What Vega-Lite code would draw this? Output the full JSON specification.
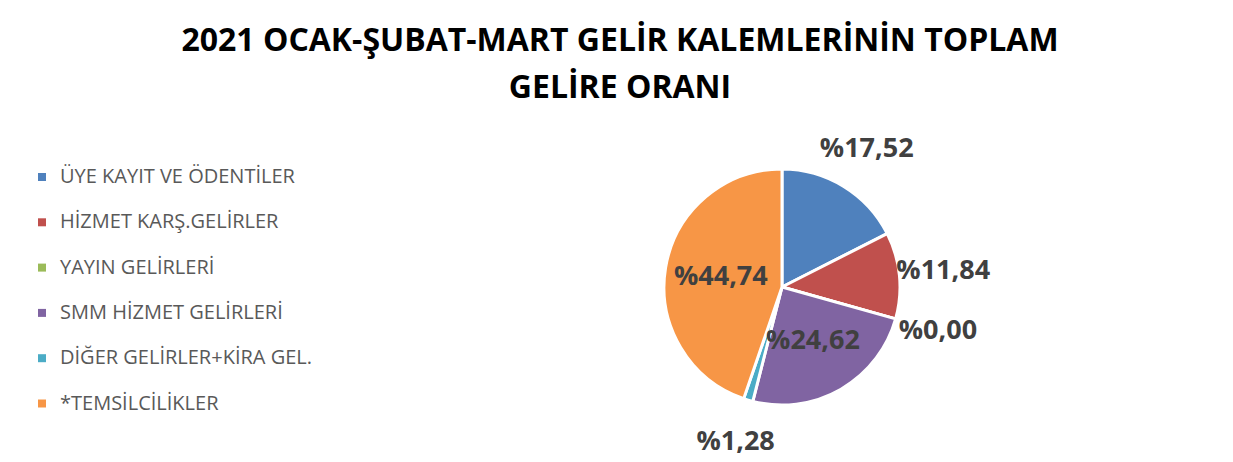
{
  "$schema": "https://vega.github.io/schema/vega-lite/v6.json",
  "width": 300,
  "height": 300,
  "autosize": {"type": "none"},
  "padding": {"left": 632, "top": 137, "right": 301, "bottom": 25},
  "background": "white",
  "title": {
    "text": ["2021 OCAK-ŞUBAT-MART GELİR KALEMLERİNİN TOPLAM", "GELİRE ORANI"],
    "anchor": "middle",
    "frame": "group",
    "dx": -162,
    "fontSize": 32,
    "font": "Open Sans",
    "fontWeight": "bold",
    "color": "#000000",
    "lineHeight": 47,
    "offset": 30
  },
  "config": {
    "view": {"stroke": null},
    "locale": {"number": {"decimal": ",", "thousands": ".", "grouping": [3], "currency": ["%", ""]}}
  },
  "data": {
    "values": [
      {"sira": 1, "kalem": "ÜYE KAYIT VE ÖDENTİLER", "deger": 17.52},
      {"sira": 2, "kalem": "HİZMET KARŞ.GELİRLER", "deger": 11.84},
      {"sira": 3, "kalem": "YAYIN GELİRLERİ", "deger": 0.0},
      {"sira": 4, "kalem": "SMM HİZMET GELİRLERİ", "deger": 24.62},
      {"sira": 5, "kalem": "DİĞER GELİRLER+KİRA GEL.", "deger": 1.28},
      {"sira": 6, "kalem": "*TEMSİLCİLİKLER", "deger": 44.74}
    ]
  },
  "encoding": {
    "theta": {"field": "deger", "type": "quantitative", "stack": true},
    "order": {"field": "sira", "type": "quantitative"}
  },
  "layer": [
    {
      "mark": {"type": "arc", "outerRadius": 118, "stroke": "white", "strokeWidth": 3},
      "encoding": {
        "color": {
          "field": "kalem",
          "type": "nominal",
          "scale": {
            "domain": ["ÜYE KAYIT VE ÖDENTİLER", "HİZMET KARŞ.GELİRLER", "YAYIN GELİRLERİ", "SMM HİZMET GELİRLERİ", "DİĞER GELİRLER+KİRA GEL.", "*TEMSİLCİLİKLER"],
            "range": ["#4F81BD", "#C0504D", "#9BBB59", "#8064A2", "#4BACC6", "#F79646"]
          },
          "legend": {
            "title": null,
            "orient": "none",
            "legendX": -600,
            "legendY": 30,
            "symbolType": "square",
            "symbolSize": 64,
            "symbolStrokeWidth": 0,
            "labelFontSize": 20,
            "labelFont": "Open Sans",
            "labelColor": "#595959",
            "rowPadding": 25.3,
            "labelOffset": 8,
            "labelLimit": 0
          }
        }
      }
    },
    {
      "mark": {"type": "text", "radius": 62, "font": "Open Sans", "fontWeight": "bold", "fontSize": 27, "fill": "#404040"},
      "encoding": {
        "detail": {"field": "kalem", "type": "nominal"},
        "text": {"field": "deger", "type": "quantitative", "format": "$.2f"},
        "opacity": {"condition": {"test": "datum.deger > 20", "value": 1}, "value": 0}
      }
    },
    {
      "mark": {"type": "text", "radius": 162, "font": "Open Sans", "fontWeight": "bold", "fontSize": 27, "fill": "#404040"},
      "encoding": {
        "detail": {"field": "kalem", "type": "nominal"},
        "text": {"field": "deger", "type": "quantitative", "format": "$.2f"},
        "opacity": {"condition": {"test": "datum.deger > 20", "value": 0}, "value": 1}
      }
    }
  ]
}
